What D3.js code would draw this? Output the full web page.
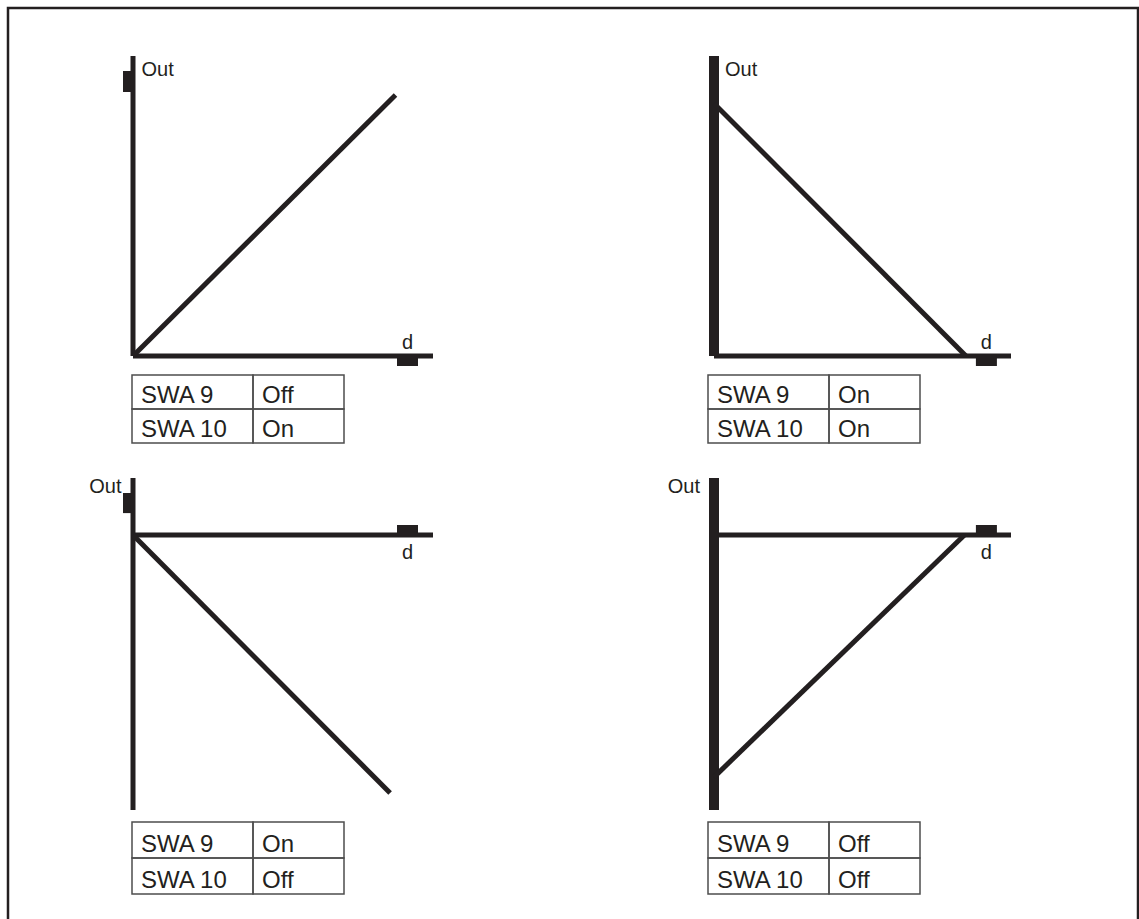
<!DOCTYPE html>
<html lang="en">
<head>
<meta charset="UTF-8">
<title>SWA 9 / SWA 10 output curves</title>
<script src="https://cdn.jsdelivr.net/npm/d3@7"></script>
<style>
    body {
        margin: 0;
        background-color: #ffffff;
    }

    text {
        font-family: "Liberation Sans", Arial, Helvetica, sans-serif;
        fill: #231f20;
    }

    text.axis-name {
        font-size: 20px;
    }

    text.cell {
        font-size: 24px;
    }

    rect.cell {
        fill: none;
        stroke: #4d4d4d;
        stroke-width: 1.5px;
    }
</style>
</head>
<body>
<div id="chart"></div>
<script type="text/javascript">
    // panels: top-left, top-right, bottom-left, bottom-right
    var switchNames = ["SWA 9", "SWA 10"];
    var swa9 = ["Off", "On", "On", "Off"];
    var swa10 = ["On", "On", "Off", "Off"];

    // output line, in (d, Out) units
    var lineStart = [[0, 0], [0, 0.842], [0, 0], [0, -0.807]];
    var lineEnd = [[0.875, 0.87], [0.84, 0], [0.857, -0.86], [0.835, 0]];

    // axis extents
    var dAxis = [[0, 1], [0, 0.99], [0, 1], [0, 0.99]];
    var outAxis = [[0, 1], [0, 1], [0.19, -0.917], [0.19, -0.917]];

    // adjustment markers on the axes
    var dMarker = [[0.88, 0.95], [0.873, 0.943], [0.88, 0.95], [0.873, 0.943]];
    var outMarker = [[0.88, 0.95], null, [0.073, 0.14], null];
    var heavyOutAxis = [false, true, false, true];

    // layout
    const width = 1139, height = 919,
        unit = 300,
        ink = "#231f20",
        origins = [[133, 356], [714, 356], [133, 535], [714, 535]],
        tableLeft = [132, 708, 132, 708],
        tableTop = [375, 375, 822, 822],
        rowH = [34, 34, 36, 36],
        col1 = 121, col2 = 91,
        markerSide = [1, 1, -1, -1],     // d marker below (1) or above (-1) the axis
        outLabelRight = [true, true, false, false];

    const svg = d3.select("#chart").append("svg")
        .attr("width", width)
        .attr("height", height);

    // frame
    svg.append("rect")
        .attr("x", 8)
        .attr("y", 8)
        .attr("width", 1130)
        .attr("height", 1000)
        .attr("fill", "none")
        .attr("stroke", ink)
        .attr("stroke-width", 2.5);

    swa9.forEach(function (s, i) {
        var ox = origins[i][0], oy = origins[i][1];
        var x = d3.scaleLinear().domain([0, 1]).range([ox, ox + unit]);
        var y = d3.scaleLinear().domain([0, 1]).range([oy, oy - unit]);
        var g = svg.append("g").attr("class", "panel");
        var outW = heavyOutAxis[i] ? 10 : 5;

        // d axis
        g.append("line")
            .attr("x1", x(dAxis[i][0])).attr("x2", x(dAxis[i][1]))
            .attr("y1", y(0)).attr("y2", y(0))
            .attr("stroke", ink).attr("stroke-width", 5);

        // Out axis
        g.append("line")
            .attr("x1", x(0)).attr("x2", x(0))
            .attr("y1", y(outAxis[i][0])).attr("y2", y(outAxis[i][1]))
            .attr("stroke", ink).attr("stroke-width", outW);

        // markers
        var dm = dMarker[i];
        g.append("rect")
            .attr("x", x(dm[0]))
            .attr("width", x(dm[1]) - x(dm[0]))
            .attr("y", markerSide[i] > 0 ? y(0) : y(0) - 10)
            .attr("height", 10)
            .attr("fill", ink);
        if (outMarker[i]) {
            var om = outMarker[i];
            g.append("rect")
                .attr("x", x(0) - 10)
                .attr("width", 10)
                .attr("y", y(om[1]))
                .attr("height", y(om[0]) - y(om[1]))
                .attr("fill", ink);
        }

        // output line
        var line = d3.line()
            .x(function (p) { return x(p[0]); })
            .y(function (p) { return y(p[1]); });
        g.append("path")
            .datum([lineStart[i], lineEnd[i]])
            .attr("fill", "none")
            .attr("stroke", ink)
            .attr("stroke-width", 5)
            .attr("d", line);

        // axis names
        g.append("text")
            .attr("class", "axis-name")
            .attr("x", (x(dm[0]) + x(dm[1])) / 2)
            .attr("y", markerSide[i] > 0 ? y(0) - 7 : y(0) + 24)
            .style("text-anchor", "middle")
            .text("d");
        var top = y(Math.max(outAxis[i][0], outAxis[i][1]));
        g.append("text")
            .attr("class", "axis-name")
            .attr("x", outLabelRight[i] ? x(0) + outW / 2 + 6 : x(0) - outW / 2 - 9)
            .attr("y", outLabelRight[i] ? top + 20 : top + 15)
            .style("text-anchor", outLabelRight[i] ? "start" : "end")
            .text("Out");

        // switch table
        var rows = [[switchNames[0], swa9[i]], [switchNames[1], swa10[i]]];
        rows.forEach(function (r, k) {
            var ty = tableTop[i] + k * rowH[i];
            [col1, col2].forEach(function (w, c) {
                var tx = tableLeft[i] + (c === 0 ? 0 : col1);
                g.append("rect")
                    .attr("class", "cell")
                    .attr("x", tx).attr("y", ty)
                    .attr("width", w).attr("height", rowH[i]);
                g.append("text")
                    .attr("class", "cell")
                    .attr("x", tx + 9)
                    .attr("y", ty + rowH[i] - 6)
                    .text(r[c]);
            });
        });
    });
</script>
</body>
</html>
